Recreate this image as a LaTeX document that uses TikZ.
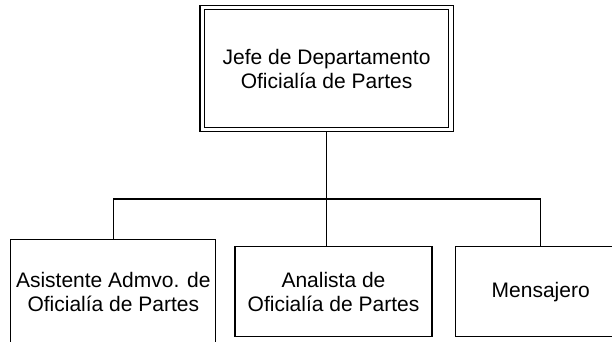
\documentclass[tikz,border=0pt]{standalone}
\usepackage{fontspec}
\setmainfont{Liberation Sans}
\usetikzlibrary{positioning}
\usepackage{xcolor}

\begin{document}
\begin{tikzpicture}[x=1pt, y=1pt,
cajadoble/.style={rectangle, draw=black, double, double distance=3.3pt, line width=1.2pt, minimum width=248.75pt, minimum height=122pt, inner sep=0pt, outer sep=2.25pt, align=center},
cajanodo/.style={rectangle, draw=black, line width=1.2pt, minimum height=90pt, inner sep=0pt, align=center},
linea/.style={draw=black, line width=1.2pt},
font=\fontsize{21}{24}\selectfont
]
\clip (0,0) rectangle (612,341);
%Nodes
%%% Jefe
\node[cajadoble]   (jefe) at (326.6,272.5) {Jefe de Departamento\\Oficialía de Partes};

%%% Fila de abajo
\node[cajanodo, minimum width=197pt]   (analista)  [below=114.25pt of jefe, xshift=6.9pt] {Analista de\\Oficialía de Partes};
\node[cajanodo, minimum width=205pt, minimum height=104pt]   (asistente) [left=18pt of analista] {Asistente Admvo. de\\Oficialía de Partes};
\node[cajanodo, minimum width=171pt]   (mensajero) [right=22pt of analista] {Mensajero};

%%% Barra
\coordinate (barra) at ([yshift=-67.25pt]jefe.south);

%Lines
\draw[linea] (jefe.south) -- (jefe.south |- analista.north);
\draw[linea] (asistente.north) |- (barra) -| (mensajero.north);

\end{tikzpicture}
\end{document}
